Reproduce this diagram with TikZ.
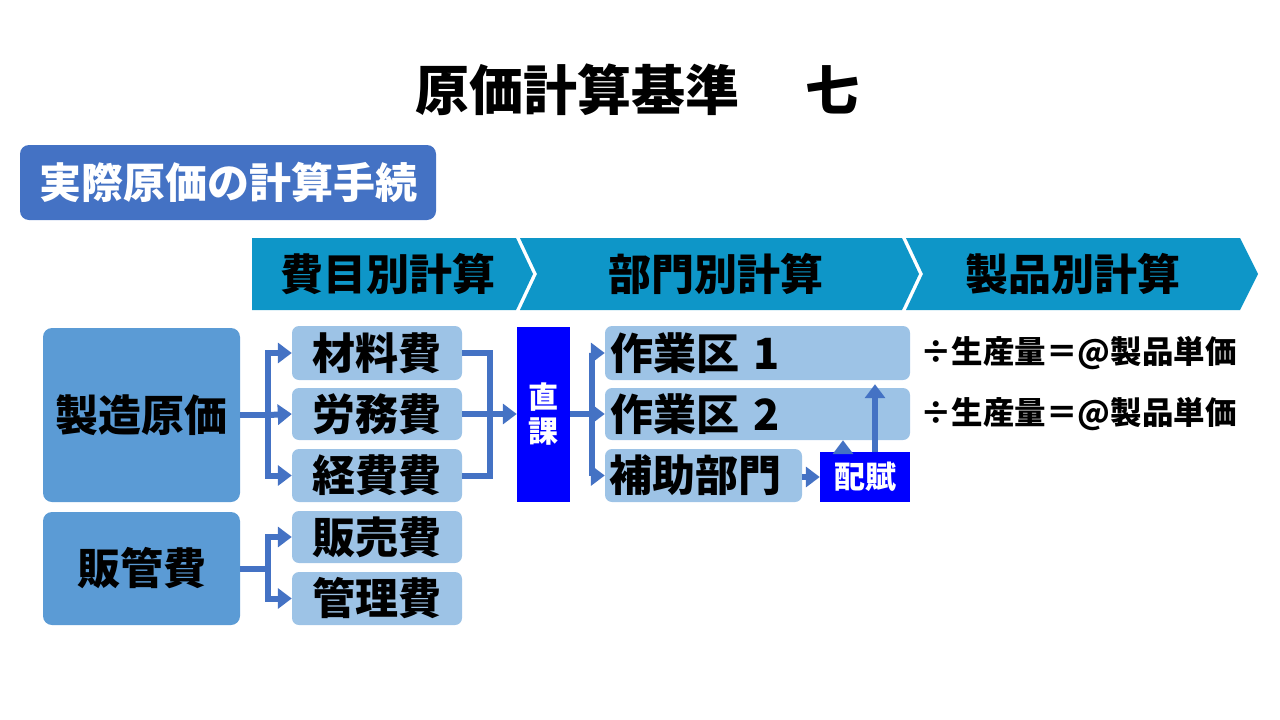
\documentclass[tikz,border=0pt]{standalone}
\usepackage{fontspec}
\setmainfont{Noto Sans CJK JP}
\usetikzlibrary{arrows.meta}
\definecolor{band}{HTML}{0E96C8}
\definecolor{tagc}{HTML}{4472C4}
\definecolor{bigc}{HTML}{5B9BD5}
\definecolor{itemc}{HTML}{9DC3E6}
\definecolor{conc}{HTML}{4472C4}
\definecolor{pureblue}{HTML}{0000FF}
\tikzset{
  fs/.style={font=\bfseries\fontsize{#1}{#1}\selectfont},
  bigbox/.style={fill=bigc, rounded corners=9pt, inner sep=0pt, fs=43},
  itembox/.style={fill=itemc, rounded corners=7pt, inner sep=0pt, fs=43},
  bluebox/.style={fill=pureblue, text=white, inner sep=0pt},
  bandtext/.style={fs=43},
  conn/.style={draw=conc, line width=6pt},
  arr/.style={conn, -{Triangle[width=20pt,length=14pt]}},
}
\begin{document}
\begin{tikzpicture}[x=1pt,y=-1pt]
\useasboundingbox (0,0) rectangle (1280,720);
% title
\node[fs=54] (title) at (637.5,90) {原価計算基準\hspace{67pt}七};
% tag
\node[fill=tagc, rounded corners=9pt, text=white, fs=42, minimum width=416pt, minimum height=75pt, inner sep=0pt] (tag) at (228,182.5) {実際原価の計算手続};
% chevron band
\fill[band] (252,238) -- (516,238) -- (533,274) -- (516,310) -- (252,310) -- cycle;
\fill[band] (520,238) -- (902,238) -- (919,274) -- (902,310) -- (520,310) -- (537,274) -- cycle;
\fill[band] (906,238) -- (1240,238) -- (1258,274) -- (1240,310) -- (906,310) -- (923,274) -- cycle;
\node[bandtext] (b1) at (388,274) {費目別計算};
\node[bandtext] (b2) at (716,274) {部門別計算};
\node[bandtext] (b3) at (1073,274) {製品別計算};
% left big boxes
\node[bigbox, minimum width=197pt, minimum height=174pt] (seizo) at (141.5,415) {製造原価};
\node[bigbox, minimum width=197pt, minimum height=113pt] (hankan) at (141.5,568.5) {販管費};
% items
\node[itembox, minimum width=170pt, minimum height=54pt] (zai) at (377,353) {材料費};
\node[itembox, minimum width=170pt, minimum height=52pt] (rou) at (377,414) {労務費};
\node[itembox, minimum width=170pt, minimum height=53pt] (kei) at (377,475.5) {経費費};
\node[itembox, minimum width=170pt, minimum height=52pt] (han) at (377,537) {販売費};
\node[itembox, minimum width=170pt, minimum height=53pt] (kan) at (377,598.5) {管理費};
% direct
\node[bluebox, fs=30, minimum width=53pt, minimum height=175pt, align=center] (choku) at (543.5,414.5) {直\\[4pt]課};
% departments
\node[itembox, minimum width=305pt, minimum height=54pt, text width=295pt, inner xsep=5pt, align=left] (s1) at (757.5,353) {作業区 1};
\node[itembox, minimum width=305pt, minimum height=52pt, text width=295pt, inner xsep=5pt, align=left] (s2) at (757.5,414) {作業区 2};
\node[itembox, minimum width=197pt, minimum height=53pt, text width=189pt, inner xsep=4pt, align=left] (hojo) at (703.5,475.5) {補助部門};
\node[bluebox, fs=31, minimum width=90pt, minimum height=50pt] (haifu) at (865,477) {配賦};
% results
\node[fs=31.5, anchor=west, inner sep=0pt] (r1) at (920,353) {÷生産量＝@製品単価};
\node[fs=31.5, anchor=west, inner sep=0pt] (r2) at (920,414) {÷生産量＝@製品単価};
% connectors
\coordinate (j1) at (268,415);
\draw[conn] (seizo.east) -- (j1);
\draw[arr] (j1) |- (zai.west);
\draw[arr] (j1) -- (rou.west);
\draw[arr] (j1) |- (kei.west);
\coordinate (j2) at (268,568.5);
\draw[conn] (hankan.east) -- (j2);
\draw[arr] (j2) |- (han.west);
\draw[arr] (j2) |- (kan.west);
\coordinate (j3) at (490,414);
\draw[conn] (zai.east) -| (j3);
\draw[conn] (kei.east) -| (j3);
\draw[arr] (rou.east) -- (choku.west |- rou.east);
\coordinate (j4) at (592,414);
\draw[conn] (choku.east |- j4) -- (j4);
\draw[arr] (j4) |- (s1.west);
\draw[arr] (j4) -- (s2.west);
\draw[arr] (j4) |- (hojo.west);
\draw[arr] (hojo.east |- haifu.west) -- (haifu.west);
\draw[arr] ([xshift=-22pt]haifu.north) -- ([xshift=-22pt]haifu.north |- s2.south);
\draw[arr] ([xshift=10pt]haifu.north) -- ([xshift=10pt,yshift=-4pt]haifu.north |- s1.south);
\end{tikzpicture}
\end{document}
